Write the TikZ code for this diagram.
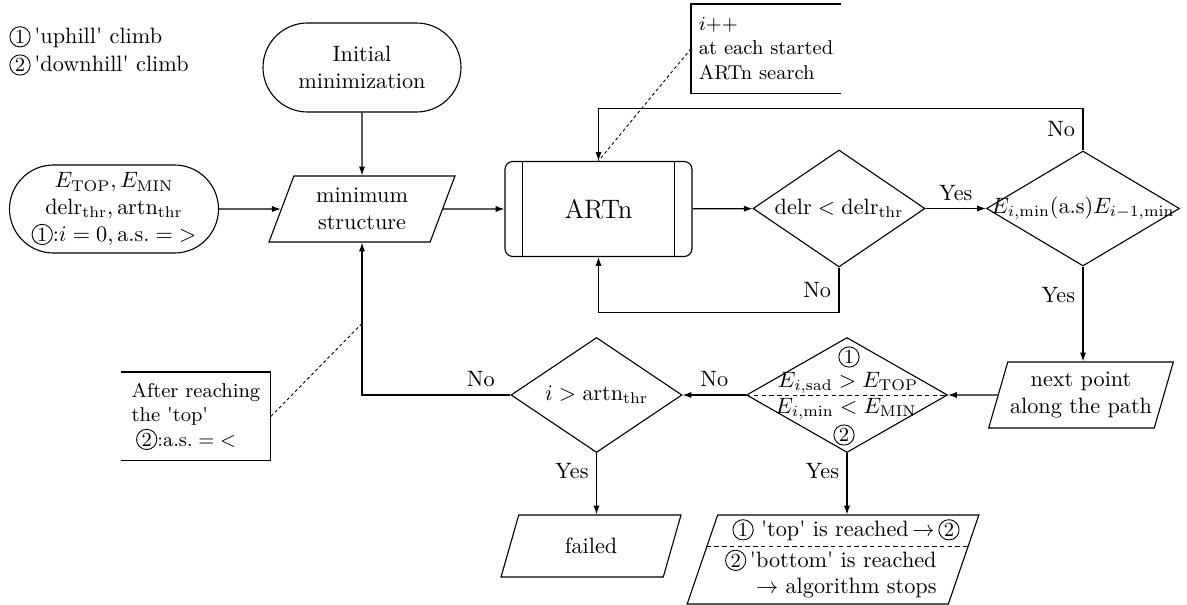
\documentclass[tikz,border=0pt]{standalone}
\usetikzlibrary{shapes.geometric,shapes.misc,arrows.meta,calc}
\newdimen\upx \upx=0.45pt
\newcommand{\cnum}[1]{\tikz[baseline=(cnnode.base)]\node[shape=circle,draw,inner sep=0.55pt,minimum size=0pt,line width=0.4pt,font=\small,sharp corners,align=center,fill=none](cnnode){#1};}
\newcommand{\sq}{\textquotesingle}
\begin{document}
\begin{tikzpicture}[x=0.45pt,y=-0.45pt,line width=0.5pt,
  arr/.style={-{Latex[length=4pt,width=2.8pt]}},
  stadium/.style={draw,rounded rectangle,align=center,inner sep=0pt},
  para/.style={draw,trapezium,trapezium left angle=68,trapezium right angle=112,trapezium stretches=true,align=center,inner sep=0pt},
  decision/.style={draw,diamond,inner sep=0pt,aspect=1},
  notebox/.style={align=left,inner sep=0pt,anchor=north west,minimum width=149*\upx,minimum height=88*\upx,font=\small},
  noteline/.style={dash pattern=on 1.4pt off 1.2pt,line width=0.4pt},
  thindash/.style={dash pattern=on 2pt off 1.5pt,line width=0.4pt},
  plain/.style={inner sep=0pt}]
\useasboundingbox (0,0) rectangle (1187,605);

% legend
\node[plain,anchor=west] (leg1) at (9,37) {\cnum{1}\,\sq uphill\sq{} climb};
\node[plain,anchor=west] (leg2) at (9,65) {\cnum{2}\,\sq downhill\sq{} climb};

% nodes
\node[stadium,minimum width=198*\upx,minimum height=89*\upx] (init) at (362,67.5) {Initial\\minimization};
\node[stadium,minimum width=209*\upx,minimum height=88*\upx] (start) at (114,209)
  {$E_{\mathrm{TOP}},E_{\mathrm{MIN}}$\\$\mathrm{delr}_{\mathrm{thr}},\mathrm{artn}_{\mathrm{thr}}$\\\cnum{1}:$i=0,\mathrm{a.s.}={>}$};
\node[para,minimum width=186*\upx,minimum height=66*\upx] (min) at (362,209) {minimum\\structure};
\node[draw,rectangle,rounded corners=3.5pt,minimum width=187*\upx,minimum height=95*\upx,font=\large] (artn) at (598.5,209) {ARTn};
\draw ($(artn.north west)+(18,0)$) -- ($(artn.south west)+(18,0)$);
\draw ($(artn.north east)+(-18,0)$) -- ($(artn.south east)+(-18,0)$);
\node[decision,minimum width=172*\upx,minimum height=117*\upx] (delr) at (839,208.5) {\makebox[0pt]{$\mathrm{delr}<\mathrm{delr}_{\mathrm{thr}}$}};
\node[decision,minimum width=193*\upx,minimum height=115*\upx] (emin) at (1083,208.5) {\makebox[0pt]{$E_{i,\min}(\mathrm{a.s})E_{i-1,\min}$}};
\node[para,minimum width=185*\upx,minimum height=66*\upx] (next) at (1081,395) {next point\\along the path};
\node[decision,minimum width=201*\upx,minimum height=115*\upx] (check) at (847,395) {};
\draw[thindash] (check.west) -- (check.east);
\node[plain] (ck1) at (849,357) {\cnum{1}};
\node[plain] (ck2) at (848,383) {$E_{i,\mathrm{sad}}>E_{\mathrm{TOP}}$};
\node[plain] (ck3) at (846,409) {$E_{i,\min}<E_{\mathrm{MIN}}$};
\node[plain] (ck4) at (844,435) {\cnum{2}};
\node[decision,minimum width=171*\upx,minimum height=115*\upx] (iter) at (596.5,395) {\makebox[0pt]{$i>\mathrm{artn}_{\mathrm{thr}}$}};
\node[para,minimum width=180*\upx,minimum height=62*\upx] (failed) at (591,546) {failed};
\node[para,minimum width=292*\upx,minimum height=89*\upx] (result) at (833,559.5)
  {\vphantom{A}\\\phantom{\cnum{2}\,\sq bottom\sq{} is reached}\\\vphantom{A}};
\draw[thindash] ($(result.top left corner)!0.35!(result.bottom left corner)$) -- ($(result.top right corner)!0.35!(result.bottom right corner)$);
\node[plain] (res1) at (846,530) {\cnum{1} \sq top\sq{} is reached$\,\rightarrow$\,\cnum{2}};
\node[plain,align=right,anchor=east] (res2) at (937,574) {\cnum{2}\,\sq bottom\sq{} is reached\\$\rightarrow$ algorithm stops};

% notes
\node[notebox] (ann1) at (691,4) {$i$++\\at each started\\ARTn search};
\draw (ann1.north east) -- (ann1.north west) -- (ann1.south west) -- (ann1.south east);
\node[notebox] (ann2) at (121,372) {After reaching\\the \sq top\sq\\\hspace{2pt}\cnum{2}:$\mathrm{a.s.}={<}$};
\draw (ann2.north west) -- (ann2.north east) -- (ann2.south east) -- (ann2.south west);

% connectors
\draw[arr] (init) -- (min);
\draw[arr] (start) -- (min);
\draw[arr] (min) -- (artn);
\draw[arr] (artn) -- (delr);
\draw[arr] (delr) -- node[above]{Yes} (emin);
\draw[arr] (emin.south) -- node[left,pos=0.3]{Yes} (emin.south |- next.north);
\draw[arr] (next) -- (check);
\draw[arr] (check) -- node[above]{No} (iter);
\draw[arr] (check.south) -- node[left,pos=0.3]{Yes} (check.south |- result.north);
\draw[arr] (iter.south) -- node[left,pos=0.3]{Yes} (iter.south |- failed.north);
\coordinate (corner) at (iter.west -| min.south);
\draw[arr] (iter.west) -- node[above,pos=0.2]{No} (corner) -- (min.south);
\coordinate (tap) at ($(min.south)!0.53!(corner)$);
\draw[noteline] (ann2.east) -- (tap);
\draw[arr] (emin.north) -- node[left]{No} ++(0,-42) -| (artn.north);
\draw[arr] (delr.south) -- node[left]{No} ++(0,45) -| (artn.south);
\draw[noteline] (ann1.west) -- (artn.north);
\end{tikzpicture}
\end{document}
